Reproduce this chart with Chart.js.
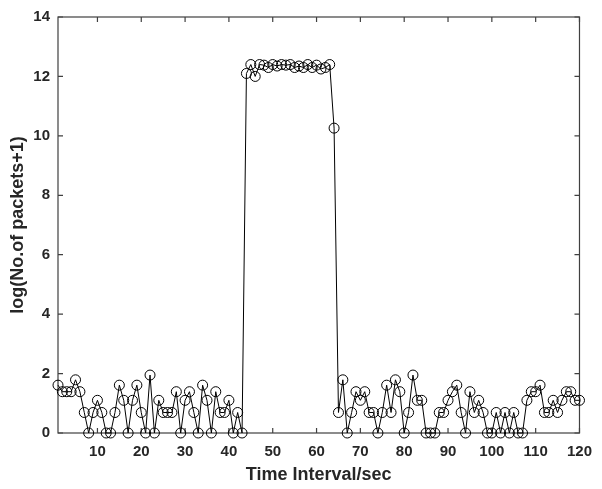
<!DOCTYPE html>
<html>
<head>
<meta charset="utf-8">
<script src="https://cdn.jsdelivr.net/npm/chart.js@4.4.1/dist/chart.umd.min.js"></script>
<style>
  html, body { margin: 0; padding: 0; background: #ffffff; }
  #wrap { width: 602px; height: 489px; }
</style>
</head>
<body>
<div id="wrap"><canvas id="c" width="602" height="489"></canvas></div>
<script>
// Time interval (seconds)
const timeSec = [
  1,2,3,4,5,6,7,8,9,10,11,12,13,14,15,16,17,18,19,20,
  21,22,23,24,25,26,27,28,29,30,31,32,33,34,35,36,37,38,39,40,
  41,42,43,44,45,46,47,48,49,50,51,52,53,54,55,56,57,58,59,60,
  61,62,63,64,65,66,67,68,69,70,71,72,73,74,75,76,77,78,79,80,
  81,82,83,84,85,86,87,88,89,90,91,92,93,94,95,96,97,98,99,100,
  101,102,103,104,105,106,107,108,109,110,111,112,113,114,115,116,117,118,119,120
];
// log(No. of packets + 1)
const logPackets = [
  1.61,1.39,1.39,1.39,1.79,1.39,0.69,0,0.69,1.10,0.69,0,0,0.69,1.61,1.10,0,1.10,1.61,0.69,
  0,1.95,0,1.10,0.69,0.69,0.69,1.39,0,1.10,1.39,0.69,0,1.61,1.10,0,1.39,0.69,0.69,1.10,
  0,0.69,0,12.10,12.40,12.00,12.40,12.38,12.30,12.40,12.35,12.40,12.38,12.40,12.30,12.35,12.30,12.40,12.30,12.38,
  12.25,12.30,12.40,10.26,0.69,1.79,0,0.69,1.39,1.10,1.39,0.69,0.69,0,0.69,1.61,0.69,1.79,1.39,0,
  0.69,1.95,1.10,1.10,0,0,0,0.69,0.69,1.10,1.39,1.61,0.69,0,1.39,0.69,1.10,0.69,0,0,
  0.69,0,0.69,0,0.69,0,0,1.10,1.39,1.39,1.61,0.69,0.69,1.10,0.69,1.10,1.39,1.39,1.10,1.10
];
const xTickValues = [10,20,30,40,50,60,70,80,90,100,110,120];
const yTickValues = [0,2,4,6,8,10,12,14];

const points = timeSec.map((t, i) => ({ x: t, y: logPackets[i] }));

const FONT = '"Liberation Sans", Arial, Helvetica, sans-serif';
const TXT = '#262626';
const AX = '#404040';

const boxTicks = {
  id: 'boxTicks',
  beforeDatasetsDraw(chart) {
    const { ctx, chartArea: a, scales } = chart;
    const L = 5;
    ctx.save();
    ctx.strokeStyle = AX;
    ctx.lineWidth = 1.2;
    ctx.strokeRect(a.left, a.top, a.right - a.left, a.bottom - a.top);
    ctx.beginPath();
    xTickValues.forEach(v => {
      const px = scales.x.getPixelForValue(v);
      ctx.moveTo(px, a.bottom); ctx.lineTo(px, a.bottom - L);
      ctx.moveTo(px, a.top); ctx.lineTo(px, a.top + L);
    });
    yTickValues.forEach(v => {
      const py = scales.y.getPixelForValue(v);
      ctx.moveTo(a.left, py); ctx.lineTo(a.left + L, py);
      ctx.moveTo(a.right, py); ctx.lineTo(a.right - L, py);
    });
    ctx.stroke();
    ctx.restore();
  }
};

new Chart(document.getElementById('c'), {
  type: 'line',
  data: {
    datasets: [{
      data: points,
      borderColor: '#000000',
      borderWidth: 1,
      tension: 0,
      pointStyle: 'circle',
      pointRadius: 5,
      pointBorderColor: '#000000',
      pointBackgroundColor: 'rgba(0,0,0,0)',
      pointBorderWidth: 1,
      clip: false
    }]
  },
  options: {
    responsive: false,
    animation: false,
    events: [],
    layout: { padding: { top: 15, right: 14, left: 0, bottom: 0 } },
    plugins: { legend: { display: false }, tooltip: { enabled: false } },
    scales: {
      x: {
        type: 'linear',
        min: 1,
        max: 120,
        grid: { display: false, drawTicks: false },
        border: { display: false },
        afterBuildTicks: s => { s.ticks = xTickValues.map(v => ({ value: v })); },
        afterFit: s => { s.height = 56; },
        ticks: {
          autoSkip: false,
          maxRotation: 0,
          padding: 10,
          color: TXT,
          font: { family: FONT, size: 15, weight: 'bold' }
        },
        title: {
          display: true,
          text: 'Time Interval/sec',
          color: TXT,
          font: { family: FONT, size: 18, weight: 'bold' },
          padding: { top: 0, bottom: 3 }
        }
      },
      y: {
        min: 0,
        max: 14,
        grid: { display: false, drawTicks: false },
        border: { display: false },
        afterBuildTicks: s => { s.ticks = yTickValues.map(v => ({ value: v })); },
        afterFit: s => { s.width = 58; },
        ticks: {
          autoSkip: false,
          padding: 8,
          color: TXT,
          font: { family: FONT, size: 15, weight: 'bold' }
        },
        title: {
          display: true,
          text: 'log(No.of packets+1)',
          color: TXT,
          font: { family: FONT, size: 18, weight: 'bold' },
          padding: { top: 7, bottom: 0 }
        }
      }
    }
  },
  plugins: [boxTicks]
});
</script>
</body>
</html>
